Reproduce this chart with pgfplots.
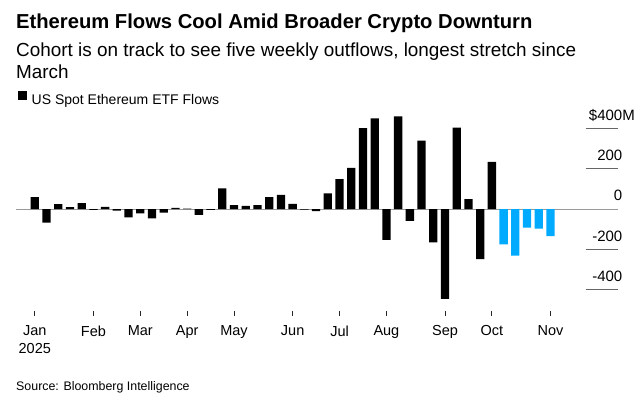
\documentclass[border=0pt]{standalone}
\usepackage{pgfplots}
\pgfplotsset{compat=1.18}
\usepackage{fontspec}
\setmainfont{Liberation Sans}
\definecolor{flowblue}{HTML}{00AAFF}
\definecolor{zerogray}{HTML}{999999}
\definecolor{gridgray}{HTML}{666666}
\begin{document}
\begin{tikzpicture}
\path[use as bounding box] (0pt,0pt) rectangle (643pt,-396pt);
\node[anchor=base west, inner sep=0pt, font=\fontsize{20.2}{24}\selectfont\bfseries] at (16pt,-28.3pt) {Ethereum Flows Cool Amid Broader Crypto Downturn};
\node[anchor=base west, inner sep=0pt, font=\fontsize{18.9}{22}\selectfont] at (16pt,-56.7pt) {Cohort is on track to see five weekly outflows, longest stretch since};
\node[anchor=base west, inner sep=0pt, font=\fontsize{18.9}{22}\selectfont] at (16pt,-78.3pt) {March};
\node[anchor=base west, inner sep=0pt, font=\fontsize{12.4}{15}\selectfont] at (16pt,-390pt) {Source: Bloomberg Intelligence};
\begin{axis}[
  at={(16pt,-311pt)}, anchor=south west,
  scale only axis, width=602pt, height=199.1pt,
  xmin=-1.604, xmax=49.76, ymin=-505, ymax=483,
  axis line style={draw=none},
  ybar, bar width=8.3pt, bar shift=0pt,
  xtick={0,5,9,13,17,22,26,30,35,39,44},
  xticklabels={Jan\\2025,Feb,Mar,Apr,May,Jun,Jul,Aug,Sep,Oct,Nov},
  xtick pos=bottom,
  tick align=outside,
  major tick length=4.5pt,
  every tick/.style={draw=black!85, line width=0.8pt},
  xticklabel style={align=center, inner sep=0pt, anchor=north, yshift=-10pt, font=\fontsize{14.5}{17.6}\selectfont},
  ytick={-400,-200,0,200,400},
  yticklabels={-400,-200,0,200,\$400\rlap{M}},
  yticklabel pos=right,
  ytick style={draw=none},
  yticklabel style={anchor=base east, inner sep=0pt, yshift=8.3pt, font=\fontsize{15}{18}\selectfont},
  legend style={draw=none, fill=none, inner sep=0pt, outer sep=0pt,
    at={(axis description cs:0,1)}, anchor=south west, xshift=2.3pt, yshift=6.3pt,
    font=\fontsize{14}{17}\selectfont, nodes={inner sep=0pt}, column sep=4.4pt},
  legend image code/.code={\fill[black] (0pt,0pt) rectangle (9pt,8.7pt);},
]
\draw[zerogray, line width=1pt] (axis cs:-1.604,0) -- (axis cs:49.76,0);
\draw[gridgray, line width=1pt] (axis cs:47.0,200) -- (axis cs:49.76,200);
\draw[gridgray, line width=1pt] (axis cs:47.0,400) -- (axis cs:49.76,400);
\draw[gridgray, line width=1pt] (axis cs:47.0,-200) -- (axis cs:49.76,-200);
\draw[gridgray, line width=1pt] (axis cs:47.0,-400) -- (axis cs:49.76,-400);
\addplot[fill=black, draw=none] coordinates {
(0,60) (1,-66) (2,25) (3,10) (4,30) (5,-3) (6,12) (7,-7) (8,-40) (9,-21)
(10,-45) (11,-17) (12,7) (13,3) (14,-28) (15,-3) (16,104) (17,20) (18,17) (19,21)
(20,60) (21,71) (22,26) (23,-2) (24,-10) (25,79) (26,149) (27,205) (28,402) (29,451)
(30,-152) (31,461) (32,-58) (33,340) (34,-164) (35,-445) (36,405) (37,50) (38,-248) (39,235)
};
\addlegendentry{US Spot Ethereum ETF Flows}
\addplot[fill=flowblue, draw=none, forget plot] coordinates {
(40,-174) (41,-230) (42,-91) (43,-96) (44,-134)
};
\end{axis}
\end{tikzpicture}
\end{document}
